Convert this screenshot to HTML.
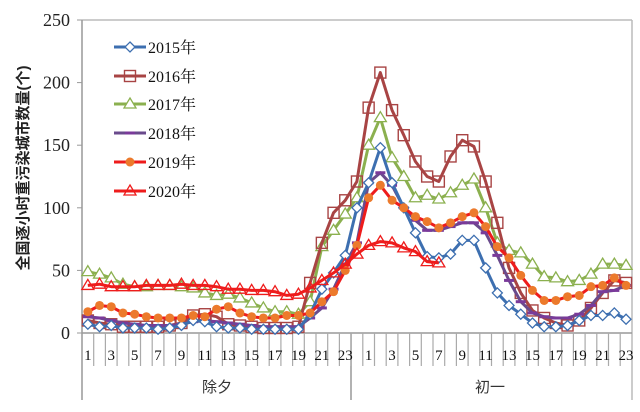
<!DOCTYPE html>
<html><head><meta charset="utf-8">
<style>
html,body{margin:0;padding:0;background:#fff;width:640px;height:412px;overflow:hidden}
svg{display:block}
</style></head>
<body>
<svg id="c" width="640" height="412" xmlns="http://www.w3.org/2000/svg">
<rect width="640" height="412" fill="#fff"/>
<g id="g"></g>
<text transform="translate(28,168) rotate(-90)" text-anchor="middle" font-family="'Liberation Sans','Noto Sans CJK SC',sans-serif" font-size="15" font-weight="bold" fill="#222">全国逐小时重污染城市数量(个)</text>
</svg>
<script>
var NS="http://www.w3.org/2000/svg",g=document.getElementById('g');
function el(t,a,txt){var e=document.createElementNS(NS,t);for(var k in a)e.setAttribute(k,a[k]);if(txt!==undefined)e.textContent=txt;g.appendChild(e);return e;}
var X0=82,W=11.7,Y0=333,S=1.252;
function X(i){return X0+(i+0.5)*W}
function Y(v){return Y0-v*S}
el('line',{x1:82,y1:20,x2:632,y2:20,stroke:'#bbb','stroke-width':1.5});
el('line',{x1:632,y1:20,x2:632,y2:400,stroke:'#bbb','stroke-width':1.5});
el('line',{x1:82,y1:20,x2:82,y2:400,stroke:'#999','stroke-width':1.5});
el('line',{x1:351,y1:333,x2:351,y2:400,stroke:'#999','stroke-width':1.5});
el('line',{x1:82,y1:333,x2:632,y2:333,stroke:'#999','stroke-width':1.5});
for(var i=1;i<47;i++){el('line',{x1:X0+i*W,y1:333,x2:X0+i*W,y2:366,stroke:'#aaa','stroke-width':1.2});}
for(var v=0;v<=250;v+=50){el('line',{x1:77,y1:Y(v),x2:82,y2:Y(v),stroke:'#999'});
 el('text',{x:70,y:Y(v)+6,'text-anchor':'end','font-family':'Liberation Serif,serif','font-size':18,fill:'#222'},String(v));}
for(var h=1;h<=23;h+=2){
 el('text',{x:X(h-1),y:360,'text-anchor':'middle','font-family':'Liberation Serif,serif','font-size':15,fill:'#111'},String(h));
 el('text',{x:X(23+h),y:360,'text-anchor':'middle','font-family':'Liberation Serif,serif','font-size':15,fill:'#111'},String(h));}
el('text',{x:217,y:392,'text-anchor':'middle','font-family':"'Liberation Sans','Noto Sans CJK SC',sans-serif",'font-size':15,fill:'#333'},'除夕');
el('text',{x:490,y:392,'text-anchor':'middle','font-family':"'Liberation Sans','Noto Sans CJK SC',sans-serif",'font-size':15,fill:'#333'},'初一');
var D={
'2015':[7,5,6,4,4,4,3,4,6,10,9,5,4,4,3,3,3,3,3,15,35,48,62, 100,120,148,120,100,80,61,60,63,74,74,52,32,22,15,8,5,5,6,10,14,14,16,11],
'2016':[10,8,7,5,5,5,5,6,8,14,15,13,7,6,5,4,4,4,5,40,72,96,106, 121,180,208,178,158,137,125,121,141,154,149,121,88,52,32,18,12,8,6,10,20,32,42,40],
'2017':[49,47,44,39,37,37,38,38,37,36,32,30,31,28,24,20,17,17,15,25,69,82,95, 108,150,172,140,125,108,110,107,112,118,123,100,72,66,64,55,45,44,41,42,47,55,55,54],
'2018':[13,12,10,8,7,6,6,6,7,9,10,9,8,7,6,5,5,5,5,12,20,35,55, 72,120,128,118,100,90,82,82,85,88,88,80,62,42,25,16,13,12,12,15,22,33,34,38],
'2019':[17,22,21,16,15,13,12,12,12,14,13,19,21,16,13,12,12,14,14,16,25,33,50, 70,108,118,106,100,93,89,84,88,93,96,85,69,60,46,34,26,26,29,30,37,38,44,38],
'2020':[38,39,37,37,37,38,38,38,39,38,38,37,35,35,34,34,33,30,31,36,42,48,55, 63,70,73,72,68,65,57,56]
};
var st={
'2015':{c:'#3d6fb0',m:'dia',f:'#fff'},
'2016':{c:'#a84444',m:'sq',f:'none'},
'2017':{c:'#8bb04f',m:'tri',f:'#fff'},
'2018':{c:'#6a4a8c',m:'dash',f:'none'},
'2019':{c:'#ee1c1c',m:'dot',f:'#ec7a2c'},
'2020':{c:'#ee1c1c',m:'tri',f:'none'}};
function mark(m,x,y,s){
 var c=s.c;
 if(m=='dia')el('polygon',{points:(x)+','+(y-5)+' '+(x+5)+','+y+' '+x+','+(y+5)+' '+(x-5)+','+y,fill:'#fff',stroke:c,'stroke-width':1.3});
 else if(m=='sq')el('rect',{x:x-5.5,y:y-5.5,width:11,height:11,fill:'none',stroke:c,'stroke-width':1.4});
 else if(m=='tri')el('polygon',{points:x+','+(y-6)+' '+(x+6)+','+(y+4)+' '+(x-6)+','+(y+4),fill:s.f,stroke:c,'stroke-width':1.3});
 else if(m=='dash')el('line',{x1:x-5,y1:y,x2:x+5,y2:y,stroke:'#7a3a9a','stroke-width':3});
 else if(m=='dot')el('circle',{cx:x,cy:y,r:4.5,fill:'#ec7a2c'});
}
var order=['2017','2016','2018','2015','2019','2020'];
order.forEach(function(k){var d=D[k],s=st[k],p=[];
 d.forEach(function(v,i){p.push(X(i).toFixed(1)+','+Y(v).toFixed(1))});
 el('polyline',{points:p.join(' '),fill:'none',stroke:s.c,'stroke-width':3,'stroke-linejoin':'round'});
 d.forEach(function(v,i){mark(s.m,X(i),Y(v),s)});
});
var ys=[47,76,104,133,162,191],ks=['2015','2016','2017','2018','2019','2020'];
ks.forEach(function(k,i){var s=st[k];
 el('line',{x1:114,y1:ys[i],x2:146,y2:ys[i],stroke:s.c,'stroke-width':3});
 mark(s.m,130,ys[i],s);
 el('text',{x:148,y:ys[i]+6,'font-family':"'Liberation Serif','Noto Serif CJK SC',serif",'font-size':16,fill:'#111'},k+'年');
});
</script>
</body></html>
